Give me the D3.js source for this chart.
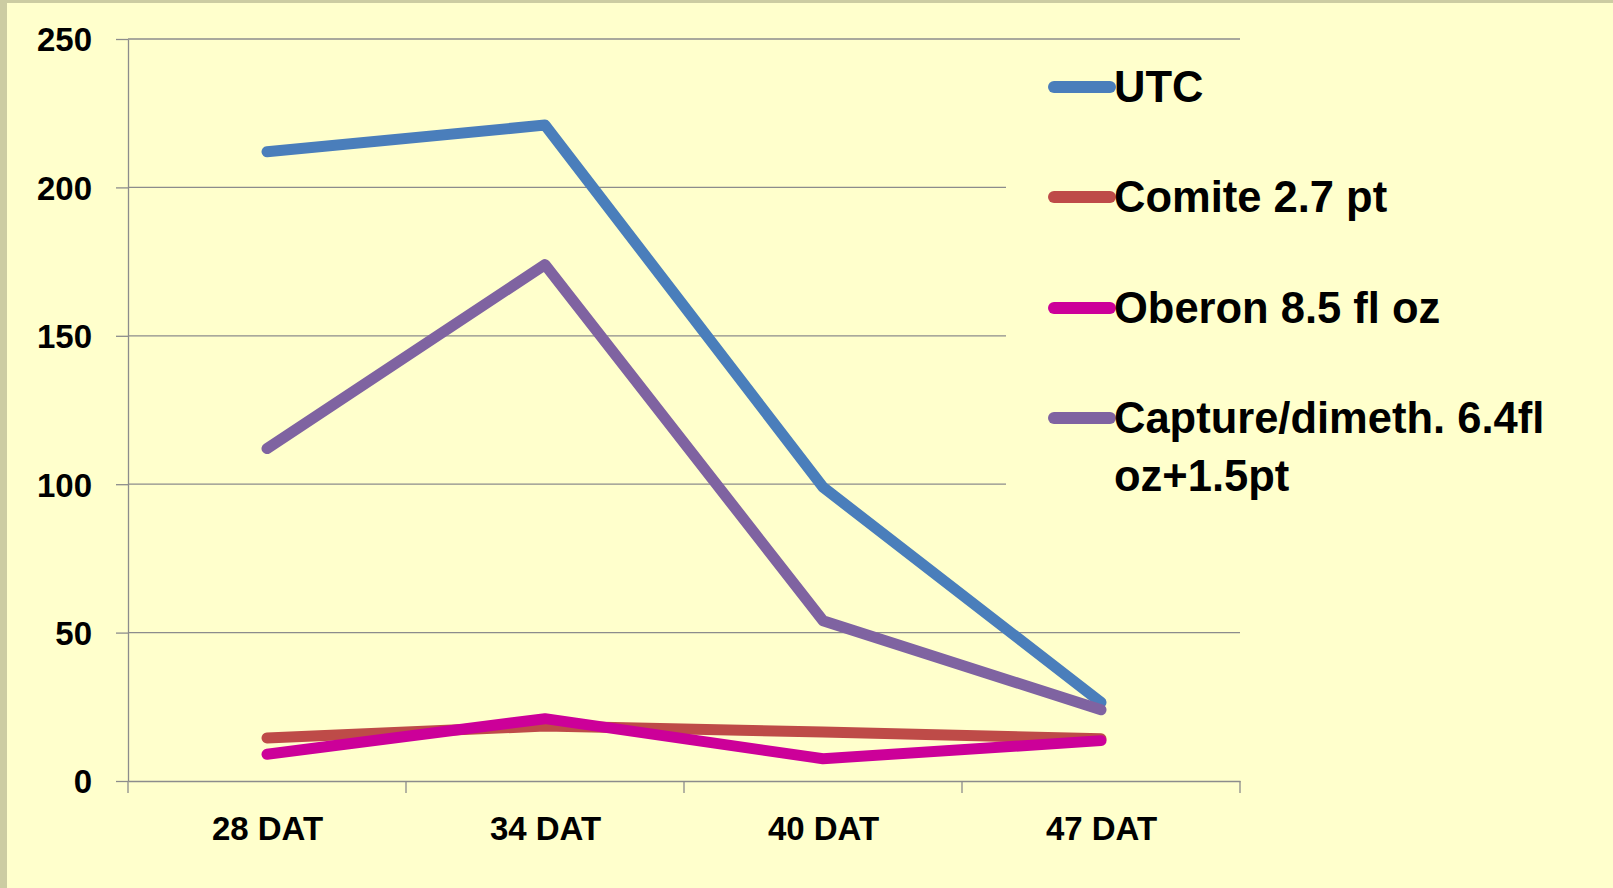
<!DOCTYPE html>
<html><head><meta charset="utf-8">
<script src="https://cdn.jsdelivr.net/npm/d3@7"></script>
<style>html,body{margin:0;padding:0;background:#FFFFCC;overflow:hidden}</style>
</head><body>
<svg id="c" width="1613" height="888"></svg>
<script>
const categories = ["28 DAT", "34 DAT", "40 DAT", "47 DAT"];
const seriesNames = ["UTC", "Comite 2.7 pt", "Oberon 8.5 fl oz", "Capture/dimeth. 6.4fl oz+1.5pt"];
const utc = [212, 221, 99, 26.5];
const comite = [14.5, 18.5, 16.5, 14.2];
const oberon = [9, 21, 7.5, 13.6];
const capture = [112, 174, 54, 24];
const yTicks = [0, 50, 100, 150, 200, 250];
const colors = ["#4A7EBB", "#BE4B48", "#CC0099", "#7F63A1"];
const series = [utc, comite, oberon, capture];

const svg = d3.select("#c");
const FONT = "'Liberation Sans', Arial, sans-serif";
svg.append("rect").attr("width",1613).attr("height",888).attr("fill","#FFFFCC");
svg.append("rect").attr("x",0).attr("y",0).attr("width",7).attr("height",888).attr("fill","#CCCCA2");
svg.append("rect").attr("x",0).attr("y",0).attr("width",1613).attr("height",3).attr("fill","#CCCCA2");

const L = 128, R = 1240, T = 39, B = 781;
const x = d3.scalePoint().domain(categories).range([L, R]).padding(0.5);
const y = d3.scaleLinear().domain([0, 250]).range([B, T]);
const grid = "#8C8C8C";

// gridlines
svg.append("g").selectAll("line").data(yTicks.filter(d => d > 0)).join("line")
  .attr("x1", L).attr("x2", R).attr("y1", d => y(d)).attr("y2", d => y(d))
  .attr("stroke", grid).attr("stroke-width", 1.3);

// y axis
const yAxis = svg.append("g").attr("transform", `translate(${L},0)`)
  .call(d3.axisLeft(y).tickValues(yTicks).tickSize(12).tickPadding(24).tickSizeOuter(0));
yAxis.select(".domain").attr("stroke", grid).attr("stroke-width", 1.3);
yAxis.selectAll(".tick line").attr("stroke", grid).attr("stroke-width", 1.3);
yAxis.selectAll(".tick text").attr("font-family", FONT).attr("font-weight", "bold")
  .attr("font-size", 33).attr("fill", "#000").attr("dy", "0.36em");

// x axis
const xAxis = svg.append("g").attr("transform", `translate(0,${B})`)
  .call(d3.axisBottom(x).tickSize(0).tickPadding(36));
xAxis.select(".domain").attr("stroke", grid).attr("stroke-width", 1.3);
xAxis.selectAll(".tick text").attr("font-family", FONT).attr("font-weight", "bold")
  .attr("font-size", 33).attr("fill", "#000").attr("dy", "0.71em");
// category boundary ticks
const step = x.step();
const bounds = d3.range(categories.length + 1).map(i => x(categories[0]) - step / 2 + i * step);
svg.append("g").selectAll("line").data(bounds).join("line")
  .attr("x1", d => d).attr("x2", d => d).attr("y1", B).attr("y2", B + 12)
  .attr("stroke", grid).attr("stroke-width", 1.3);

// legend background
svg.append("rect").attr("x", 1006).attr("y", 58).attr("width", 607).attr("height", 450).attr("fill", "#FFFFCC");

// lines
const line = d3.line().x((d, i) => x(categories[i])).y(d => y(d));
svg.append("g").selectAll("path").data(series).join("path")
  .attr("d", d => line(d)).attr("fill", "none")
  .attr("stroke", (d, i) => colors[i]).attr("stroke-width", 11)
  .attr("stroke-linecap", "round").attr("stroke-linejoin", "round");

// legend
const legRows = [87, 197, 308, 418];
const lg = svg.append("g");
seriesNames.forEach((name, i) => {
  const yy = legRows[i];
  lg.append("line").attr("x1", 1054).attr("x2", 1110).attr("y1", yy).attr("y2", yy)
    .attr("stroke", colors[i]).attr("stroke-width", 12).attr("stroke-linecap", "round");
  const t = lg.append("text").attr("x", 1114).attr("y", yy + 15)
    .attr("font-family", FONT).attr("font-weight", "bold").attr("font-size", 43.5).attr("fill", "#000");
  if (i === 3) {
    t.append("tspan").attr("x", 1114).text("Capture/dimeth. 6.4fl");
    t.append("tspan").attr("x", 1114).attr("dy", 58).text("oz+1.5pt");
  } else t.text(name);
});
</script>
</body></html>
